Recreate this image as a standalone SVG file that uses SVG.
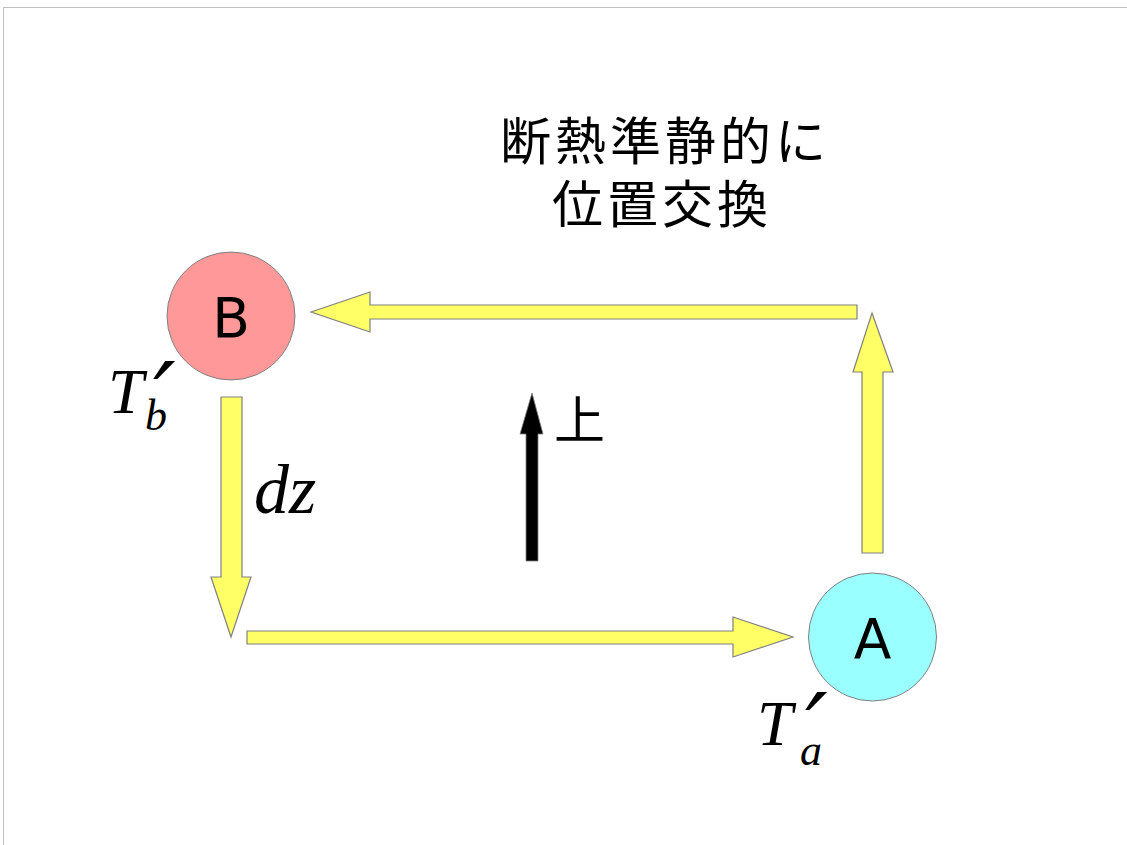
<svg xmlns="http://www.w3.org/2000/svg" width="1127" height="845" viewBox="0 0 1127 845">
<style>
.flow{fill:#ffff66;stroke:#808080;stroke-width:1.2}
.node-b{fill:#ff9999;stroke:#808080;stroke-width:1}
.node-a{fill:#99ffff;stroke:#808080;stroke-width:1}
.lbl{font-family:"DejaVu Sans","Liberation Sans",sans-serif;font-size:55px;fill:#000;text-anchor:middle}
.math{font-family:"Liberation Serif","DejaVu Serif",serif;font-style:italic;fill:#000}
.prime{font-family:"DejaVu Serif","Liberation Serif",serif;fill:#000}
.jp{font-family:"Noto Sans CJK JP","Noto Sans CJK SC",sans-serif;font-size:51px;fill:#000;letter-spacing:4px}
</style>
<rect x="3.5" y="7.5" width="1130" height="845" fill="#ffffff" stroke="#c0c0c0" stroke-width="1"/>
<g id="connectors">
<polygon class="flow" points="311,312 370,292 370,305 857,305 857,319 370,319 370,332"/>
<polygon class="flow" points="872,313 893,372 883,372 883,553 862,553 862,372 853,372"/>
<polygon class="flow" points="221,397 242,397 242,577 251,577 231,637 211,577 221,577"/>
<polygon class="flow" points="247,631 733,631 733,617 793,637 733,657 733,644 247,644"/>
<polygon fill="#000000" stroke="#808080" stroke-width="0.8" points="532,393 543,434 538,434 538,561 526,561 526,434 520,434"/>
</g>
<g id="node-B">
<circle class="node-b" cx="231" cy="316" r="64"/>
<text class="lbl" x="231" y="337">B</text>
</g>
<g id="node-A">
<circle class="node-a" cx="872.5" cy="637" r="64"/>
<text class="lbl" x="872.5" y="658">A</text>
</g>
<g id="label-Tb">
<text class="math" x="108" y="413" font-size="64">T</text>
<text class="prime" x="153" y="433" font-size="100" font-style="italic">′</text>
<text class="math" x="145" y="430" font-size="44">b</text>
</g>
<g id="label-Ta">
<text class="math" x="757" y="745" font-size="64">T</text>
<text class="prime" x="805" y="764" font-size="100" font-style="italic">′</text>
<text class="math" x="800" y="765" font-size="44">a</text>
</g>
<g id="label-dz">
<text class="math" x="254" y="513" font-size="70">dz</text>
</g>
<g id="label-up">
<text class="jp" x="554" y="439" letter-spacing="0">上</text>
</g>
<g id="title">
<text class="jp" x="500" y="160">断熱準静的に</text>
<text class="jp" x="552" y="223">位置交換</text>
</g>
</svg>
